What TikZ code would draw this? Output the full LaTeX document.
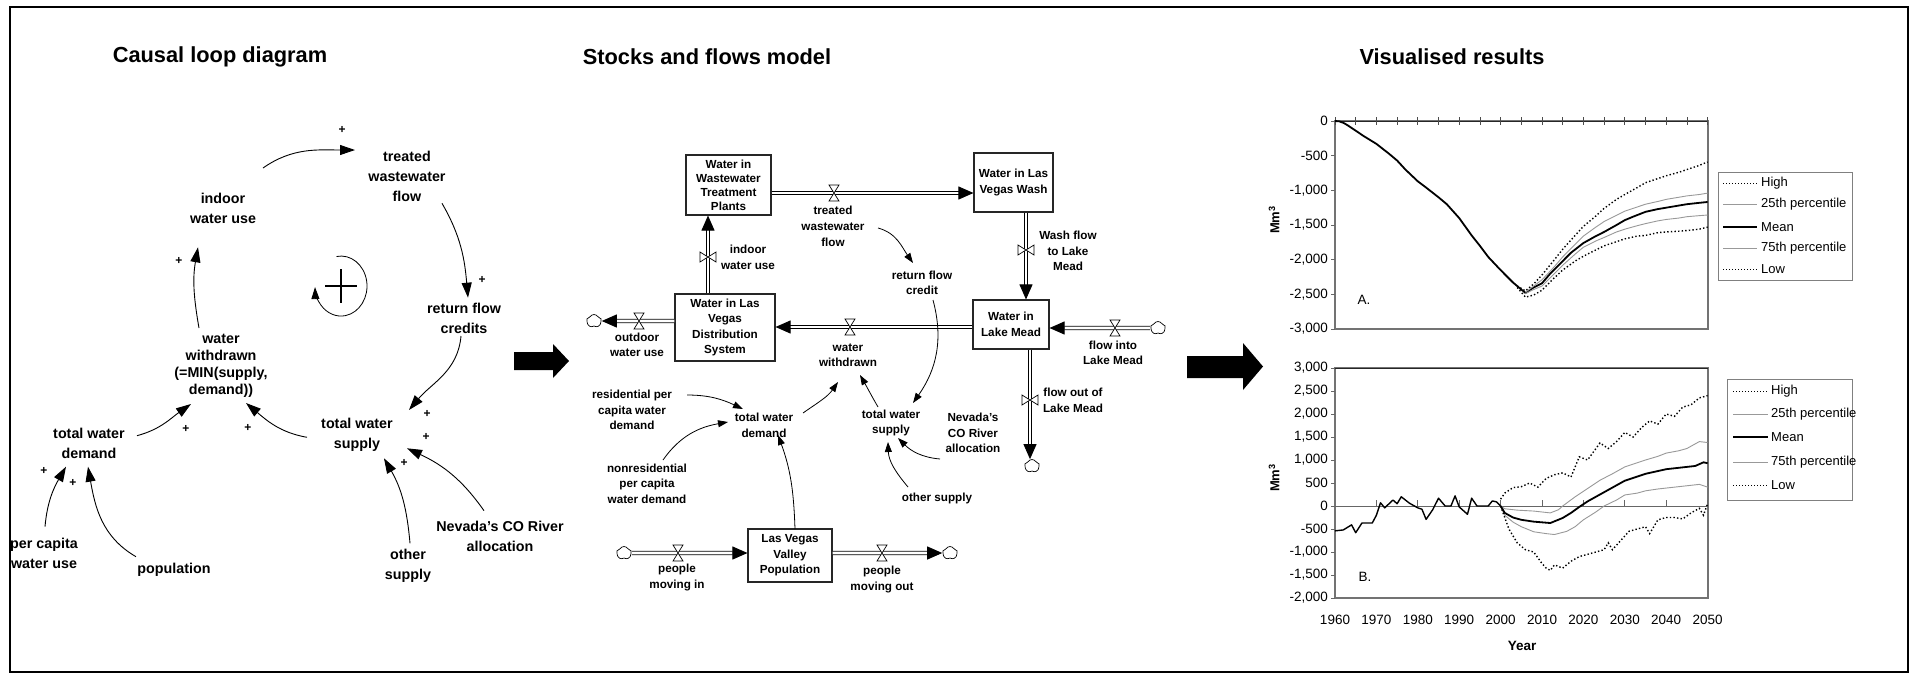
\documentclass[tikz,border=0pt]{standalone}
\usepackage{fontspec}
\setmainfont{Liberation Sans}
\usetikzlibrary{arrows.meta,shapes.symbols}
\begin{document}
\begin{tikzpicture}[x=1pt,y=-1pt,
  ttl/.style={font=\bfseries\fontsize{21.8}{24}\selectfont, inner sep=0pt},
  cl/.style={font=\bfseries\fontsize{14.3}{20}\selectfont, align=center, inner sep=0pt},
  pl/.style={font=\bfseries\fontsize{12}{12}\selectfont, inner sep=0pt},
  carrow/.style={line width=0.9pt, -{Triangle[length=15pt,width=10pt]}},
  sf/.style={font=\bfseries\fontsize{11.7}{15.5}\selectfont, align=center, inner sep=0pt},
  stockbox/.style={draw=black!85, line width=1.1pt, fill=white, font=\bfseries\fontsize{11.7}{15.5}\selectfont, align=center, inner sep=0pt},
  pipe/.style={double=white, double distance=2.6pt, line width=0.9pt, -{Triangle[length=15pt,width=13pt]}},
  sfarrow/.style={line width=0.8pt, -{Triangle[length=10pt,width=7pt]}},
  cloudn/.style={cloud, draw, cloud puffs=5, cloud puff arc=120, aspect=1.2, minimum width=15pt, minimum height=13pt, inner sep=0pt, fill=white, line width=0.7pt},
  ax/.style={font=\fontsize{13.5}{14}\selectfont, inner sep=0pt},
  lg/.style={font=\fontsize{13}{14}\selectfont, inner sep=0pt, anchor=west},
  hiline/.style={line width=1.4pt, dash pattern=on 1.4pt off 2.2pt},
  qline/.style={line width=0.9pt, black!40},
  meanline/.style={line width=1.8pt},
  lgdot/.style={line width=0.8pt, dash pattern=on 1pt off 2pt},
  lgq/.style={line width=0.8pt, black!40},
  lgmean/.style={line width=1.8pt},
  valveh/.pic={\draw[fill=white, line width=0.7pt] (-5,-8) -- (5,-8) -- (-5,8) -- (5,8) -- cycle;},
  valvev/.pic={\draw[fill=white, line width=0.7pt] (-8,-5) -- (-8,5) -- (8,-5) -- (8,5) -- cycle;},
]
\useasboundingbox (0,0) rectangle (1912,678);
\fill[white] (0,0) rectangle (1912,678);

% ---------- titles ----------
\node[ttl] (t1) at (220,57) {Causal loop diagram};
\node[ttl] (t2) at (707,57) {Stocks and flows model};
\node[ttl] (t3) at (1452,57) {Visualised results};

% ---------- causal loop diagram ----------
\node[cl] (treated) at (407,176.5) {treated\\wastewater\\flow};
\node[cl] (indoor) at (223,208) {indoor\\water use};
\node[cl, font=\bfseries\fontsize{14.3}{16.8}\selectfont] (withdrawn) at (221,366) {water\\withdrawn\\(=MIN(supply,\\demand))};
\node[cl] (returnc) at (464,318) {return flow\\credits};
\node[cl] (supply) at (357,434.5) {total water\\supply};
\node[cl] (demand) at (89,443) {total water\\demand};
\node[cl] (percap) at (44,553.3) {per capita\\water use};
\node[cl] (population) at (174,570) {population};
\node[cl] (other) at (408,565.5) {other\\supply};
\node[cl] (nevada) at (500,536.7) {Nevada's CO River\\allocation};

\draw[carrow] ([shift={(40,-40)}]indoor.center) to[out=35,in=180] ([shift={(-52,-26.5)}]treated.center);
\draw[carrow] ([shift={(35,26.8)}]treated.center) to[out=-60,in=95] ([shift={(4,-20.3)}]returnc.center);
\draw[carrow] ([shift={(-3,18)}]returnc.center) to[out=-95,in=50] ([shift={(52,-24.5)}]supply.center);
\draw[carrow] ([shift={(-50,2.8)}]supply.center) to[out=170,in=-40] ([shift={(25,37)}]withdrawn.center);
\draw[carrow] ([shift={(48,-7.3)}]demand.center) to[out=15,in=-145] ([shift={(-30,38)}]withdrawn.center);
\draw[carrow] ([shift={(-22,-38)}]withdrawn.center) to[out=100,in=-100] ([shift={(-25,39.3)}]indoor.center);
\draw[carrow] ([shift={(1,-26.6)}]percap.center) to[out=85,in=-120] ([shift={(-23,23.7)}]demand.center);
\draw[carrow] ([shift={(-38,-13.3)}]population.center) to[out=150,in=-80] ([shift={(-1,23.7)}]demand.center);
\draw[carrow] ([shift={(2,-22.2)}]other.center) to[out=95,in=-60] ([shift={(27,23.8)}]supply.center);
\draw[carrow] ([shift={(-16,-26)}]nevada.center) to[out=125,in=-25] ([shift={(50,13.8)}]supply.center);

\node[pl] (p1) at (342,130) {+};
\node[pl] (p2) at (482,280) {+};
\node[pl] (p3) at (427,414) {+};
\node[pl] (p4) at (248,428.3) {+};
\node[pl] (p5) at (186,429) {+};
\node[pl] (p6) at (179,261) {+};
\node[pl] (p7) at (44,471) {+};
\node[pl] (p8) at (73,483.3) {+};
\node[pl] (p9) at (404,463.3) {+};
\node[pl] (p10) at (426,437.3) {+};

% loop symbol
\coordinate (loopc) at (341,286);
\draw[line width=0.8pt, -{Triangle[length=12pt,width=8pt]}] ([shift={(-4.5,-29.5)}]loopc) arc[start angle=100, end angle=-178, x radius=26pt, y radius=30pt];
\draw[line width=1.1pt] ([shift={(-16,0)}]loopc) -- ([shift={(16,0)}]loopc);
\draw[line width=1.1pt] ([shift={(0,-16.7)}]loopc) -- ([shift={(0,16.7)}]loopc);

% big arrows
\fill (514,352) -- (553,352) -- (553,344) -- (569,361) -- (553,378) -- (553,370) -- (514,370) -- cycle;
\fill (1187,356) -- (1243,356) -- (1243,343) -- (1263,366.5) -- (1243,390) -- (1243,378) -- (1187,378) -- cycle;

% ---------- stocks and flows ----------
\node[stockbox, minimum width=85pt, minimum height=60pt, font=\bfseries\fontsize{11.7}{14}\selectfont] (wwtp) at (728.5,185) {Water in\\Wastewater\\Treatment\\Plants};
\node[stockbox, minimum width=79pt, minimum height=59pt] (wash) at (1013.5,182.5) {Water in Las\\Vegas Wash};
\node[stockbox, minimum width=76pt, minimum height=49pt] (lm) at (1011,324.5) {Water in\\Lake Mead};
\node[stockbox, minimum width=100pt, minimum height=67pt] (dist) at (725,327.5) {Water in Las\\Vegas\\Distribution\\System};
\node[stockbox, minimum width=84pt, minimum height=53pt] (pop) at (790,555.5) {Las Vegas\\Valley\\Population};

\node[cloudn] (c1) at (594,321) {};
\node[cloudn] (c2) at (1158,328) {};
\node[cloudn] (c3) at (1032,466) {};
\node[cloudn] (c4) at (624,553) {};
\node[cloudn] (c5) at (950,553) {};

\coordinate (v1) at (834,193);
\coordinate (v2) at (708,257);
\coordinate (v3) at (850,327);
\coordinate (v4) at (639,321);
\coordinate (v5) at (1026,250);
\coordinate (v6) at (1115,328);
\coordinate (v7) at (1030,400);
\coordinate (v8) at (678,553);
\coordinate (v9) at (882,553);

\draw[pipe] (wwtp.east |- v1) -- (wash.west |- v1);
\draw[pipe] (dist.north -| v2) -- (wwtp.south -| v2);
\draw[pipe] (lm.west |- v3) -- (dist.east |- v3);
\draw[pipe] (dist.west |- v4) -- (c1.east);
\draw[pipe] (wash.south -| v5) -- (lm.north -| v5);
\draw[pipe] (c2.west) -- (lm.east |- v6);
\draw[pipe] (lm.south -| v7) -- (c3.north -| v7);
\draw[pipe] (c4.east) -- (pop.west |- v8);
\draw[pipe] (pop.east |- v9) -- (c5.west);

\pic at (v1) {valveh};
\pic at (v2) {valvev};
\pic at (v3) {valveh};
\pic at (v4) {valveh};
\pic at (v5) {valvev};
\pic at (v6) {valveh};
\pic at (v7) {valvev};
\pic at (v8) {valveh};
\pic at (v9) {valveh};

\node[sf, font=\bfseries\fontsize{11.7}{16}\selectfont] (twf) at (833,226) {treated\\wastewater\\flow};
\node[sf] (iwu) at (748,257.5) {indoor\\water use};
\node[sf] (ww) at (848,355) {water\\withdrawn};
\node[sf] (owu) at (637,345) {outdoor\\water use};
\node[sf] (wfl) at (1068,251) {Wash flow\\to Lake\\Mead};
\node[sf] (fil) at (1113,353) {flow into\\Lake Mead};
\node[sf] (fol) at (1073,400.5) {flow out of\\Lake Mead};
\node[sf] (pmi) at (677,577.5) {people\\moving in};
\node[sf] (pmo) at (882,579.5) {people\\moving out};

\node[sf] (rfc) at (922,283) {return flow\\credit};
\node[sf] (res) at (632,410) {residential per\\capita water\\demand};
\node[sf] (twd) at (764,425.5) {total water\\demand};
\node[sf] (tws) at (891,423) {total water\\supply};
\node[sf] (nonres) at (647,483.5) {nonresidential\\per capita\\water demand};
\node[sf] (osup) at (937,498) {other supply};
\node[sf] (nev) at (973,433) {Nevada's\\CO River\\allocation};

\draw[sfarrow] ([shift={(45,2)}]twf.center) to[out=-15,in=125] ([shift={(-9,-20)}]rfc.center);
\draw[sfarrow] ([shift={(11,17)}]rfc.center) to[out=-75,in=55] ([shift={(22,-20)}]tws.center);
\draw[sfarrow] ([shift={(39,-12.5)}]twd.center) to[out=35,in=-125] ([shift={(-10,27)}]ww.center);
\draw[sfarrow] ([shift={(-13,-16)}]tws.center) to[out=120,in=-60] ([shift={(12,20)}]ww.center);
\draw[sfarrow] ([shift={(55,-15)}]res.center) to[out=0,in=155] ([shift={(-21,-16.5)}]twd.center);
\draw[sfarrow] ([shift={(16,-23.5)}]nonres.center) to[out=55,in=-170] ([shift={(-36,-3.5)}]twd.center);
\draw[sfarrow] ([shift={(5,-26.5)}]pop.center) to[out=92,in=-70] ([shift={(14,9.5)}]twd.center);
\draw[sfarrow] ([shift={(-33,26)}]nev.center) to[out=175,in=-45] ([shift={(7,15)}]tws.center);
\draw[sfarrow] ([shift={(-29,-11)}]osup.center) to[out=130,in=-88] ([shift={(-3,19)}]tws.center);

% ---------- chart A ----------
\draw[black!55, line width=1.3pt] (1335,121) rectangle (1708,329);
\draw[black!85, line width=0.8pt] (1335,121) -- (1708,121);
\foreach \k in {0,...,18} \draw[black!70, line width=0.7pt] ({1335+\k*20.7},117) -- ({1335+\k*20.7},125);
\foreach \v/\l in {0/0,-500/-500,-1000/{-1,000},-1500/{-1,500},-2000/{-2,000},-2500/{-2,500},-3000/{-3,000}} {
  \draw[black!60, line width=0.7pt] (1331,{121-\v*0.06933}) -- (1335,{121-\v*0.06933});
  \node[ax, anchor=east] (ta\v) at (1328,{121-\v*0.06933}) {\l};
}
\node[ax, font=\bfseries\fontsize{13}{14}\selectfont, rotate=90] (tmm) at (1274,220) {Mm\textsuperscript{3}};
\node[ax] (tA) at (1364,300) {A.};

\begin{scope}[xshift=1335pt, yshift=-121pt, x=4.14pt, y=0.06933pt]
\draw[meanline, line join=round] plot coordinates {(0,0) (1,-5) (2,-25) (3,-60) (5,-140) (7,-220) (10,-330) (13,-470) (15,-570) (17,-700) (20,-870) (22,-960) (25,-1100) (27,-1200) (30,-1400) (33,-1650) (35,-1800) (37,-1960) (40,-2150) (43,-2330) (45,-2430) (46,-2480) (48,-2400) (50,-2340) (52,-2200) (55,-2020) (57,-1900) (60,-1760) (63,-1660) (65,-1600) (68,-1500) (70,-1430) (72,-1380) (75,-1310) (78,-1270) (80,-1250) (83,-1220) (85,-1200) (88,-1180) (90,-1168)};
\draw[hiline] plot coordinates {(44,-2380) (46,-2450) (48,-2350) (50,-2220) (53,-2000) (55,-1850) (58,-1650) (60,-1520) (63,-1370) (65,-1260) (68,-1130) (70,-1060) (73,-960) (75,-890) (78,-830) (80,-790) (83,-740) (85,-700) (88,-640) (90,-590)};
\draw[qline] plot coordinates {(46,-2470) (48,-2380) (50,-2290) (53,-2100) (55,-1960) (58,-1780) (60,-1660) (63,-1530) (65,-1450) (68,-1360) (70,-1300) (73,-1240) (75,-1200) (78,-1160) (80,-1130) (83,-1100) (85,-1080) (88,-1060) (90,-1040)};
\draw[qline] plot coordinates {(46,-2490) (48,-2430) (50,-2380) (53,-2200) (55,-2080) (58,-1920) (60,-1820) (63,-1730) (65,-1680) (68,-1600) (70,-1560) (73,-1510) (75,-1480) (78,-1440) (80,-1420) (83,-1400) (85,-1380) (88,-1365) (90,-1356)};
\draw[hiline] plot coordinates {(44,-2400) (46,-2540) (48,-2510) (50,-2440) (53,-2260) (55,-2150) (58,-2020) (60,-1950) (63,-1860) (65,-1800) (68,-1740) (70,-1700) (73,-1660) (75,-1650) (78,-1610) (80,-1600) (83,-1590) (85,-1580) (88,-1560) (90,-1530)};
\end{scope}

% legend A
\node[draw=black!50, line width=0.8pt, minimum width=134pt, minimum height=108pt, inner sep=0pt] (lgA) at (1785,226) {};
\draw[lgdot] (1723,183) -- (1757,183); \node[lg] (lgA1) at (1761,183) {High};
\draw[lgq] (1723,204) -- (1757,204); \node[lg] (lgA2) at (1761,204) {25th percentile};
\draw[lgmean] (1723,227) -- (1757,227); \node[lg] (lgA3) at (1761,227) {Mean};
\draw[lgq] (1723,248) -- (1757,248); \node[lg] (lgA4) at (1761,248) {75th percentile};
\draw[lgdot] (1723,269) -- (1757,269); \node[lg] (lgA5) at (1761,269) {Low};

% ---------- chart B ----------
\draw[black!55, line width=1.3pt] (1335,368) rectangle (1708,598);
\draw[black!85, line width=0.8pt] (1335,368) -- (1708,368);
\draw[black!60, line width=0.8pt] (1335,506) -- (1708,506);
\foreach \k in {1,...,9} \draw[black!60, line width=0.7pt] ({1335+\k*41.4},500) -- ({1335+\k*41.4},506);
\foreach \v/\l in {3000/{3,000},2500/{2,500},2000/{2,000},1500/{1,500},1000/{1,000},500/500,0/0,-500/-500,-1000/{-1,000},-1500/{-1,500},-2000/{-2,000}} {
  \draw[black!60, line width=0.7pt] (1331,{506-\v*0.046}) -- (1335,{506-\v*0.046});
  \node[ax, anchor=east] (ba\v) at (1328,{506-\v*0.046}) {\l};
}
\node[ax, font=\bfseries\fontsize{13}{14}\selectfont, rotate=90] (bmm) at (1274,478) {Mm\textsuperscript{3}};
\node[ax] (bB) at (1365,577) {B.};
\foreach \yr in {1960,1970,...,2050} \node[ax] (xl\yr) at ({1335+(\yr-1960)*4.14},620) {\yr};
\node[ax, font=\bfseries\fontsize{13.5}{14}\selectfont] (year) at (1522,646) {Year};

\begin{scope}[xshift=1335pt, yshift=-506pt, x=4.14pt, y=0.046pt]
\draw[line width=1.4pt, line join=round] plot coordinates {(0,-540) (2,-520) (4,-410) (5,-580) (6.5,-370) (8,-370) (9,-370) (10,-200) (11,70) (12,-40) (14,130) (15,50) (16,200) (18,60) (20,-40) (21,-70) (22,-290) (23.6,-80) (25,170) (26.6,0) (28,0) (29,220) (30,-20) (32,-180) (33,170) (34.3,0) (37,0) (38,110) (39,90) (40,0)};
\draw[qline] plot coordinates {(40,0) (41,-60) (44,-90) (48,-110) (52,-150) (54,-80) (55,0) (58,200) (61,380) (64,560) (67,700) (70,850) (73,940) (75,1000) (78,1080) (80,1150) (83,1200) (85,1250) (88,1400) (90,1380)};
\draw[qline] plot coordinates {(40,0) (41,-200) (43,-350) (45,-450) (48,-560) (51,-600) (53,-620) (56,-550) (58,-450) (60,-300) (63,-130) (65,0) (68,130) (70,240) (73,280) (75,330) (78,370) (80,390) (83,420) (86,450) (88,470) (90,410)};
\draw[meanline, line join=round] plot coordinates {(40,0) (41,-150) (43,-250) (45,-300) (48,-340) (52,-370) (55,-260) (57,-150) (59,-20) (61,100) (64,250) (67,400) (70,550) (73,640) (75,700) (78,760) (80,800) (83,830) (85,850) (87,870) (89,950) (90,930)};
\draw[hiline] plot coordinates {(40,150) (41,280) (43,400) (45,420) (47,500) (49,410) (51,600) (53,680) (55,720) (57,630) (59,1070) (61,1000) (64,1370) (66,1250) (68,1400) (70,1600) (72,1500) (74,1700) (76,1850) (78,1780) (80,2000) (82,1950) (84,2150) (86,2200) (88,2350) (90,2400)};
\draw[hiline] plot coordinates {(40,0) (42,-500) (44,-800) (46,-950) (48,-1000) (50,-1250) (51,-1350) (52,-1400) (53,-1280) (55,-1350) (57,-1200) (59,-1100) (61,-1050) (63,-1000) (65,-950) (66,-800) (67,-950) (69,-750) (71,-550) (73,-500) (75,-450) (76,-600) (78,-300) (80,-250) (82,-250) (84,-280) (86,-150) (88,-50) (89,-200) (90,50)};
\end{scope}

% legend B
\node[draw=black!50, line width=0.8pt, minimum width=125pt, minimum height=121pt, inner sep=0pt] (lgB) at (1789.5,439.5) {};
\draw[lgdot] (1733,391) -- (1768,391); \node[lg] (lgB1) at (1771,391) {High};
\draw[lgq] (1733,414) -- (1768,414); \node[lg] (lgB2) at (1771,414) {25th percentile};
\draw[lgmean] (1733,437) -- (1768,437); \node[lg] (lgB3) at (1771,437) {Mean};
\draw[lgq] (1733,462) -- (1768,462); \node[lg] (lgB4) at (1771,462) {75th percentile};
\draw[lgdot] (1733,485) -- (1768,485); \node[lg] (lgB5) at (1771,485) {Low};

% outer frame
\draw[line width=1.8pt] (10,7) rectangle (1908,672);
\end{tikzpicture}
\end{document}
